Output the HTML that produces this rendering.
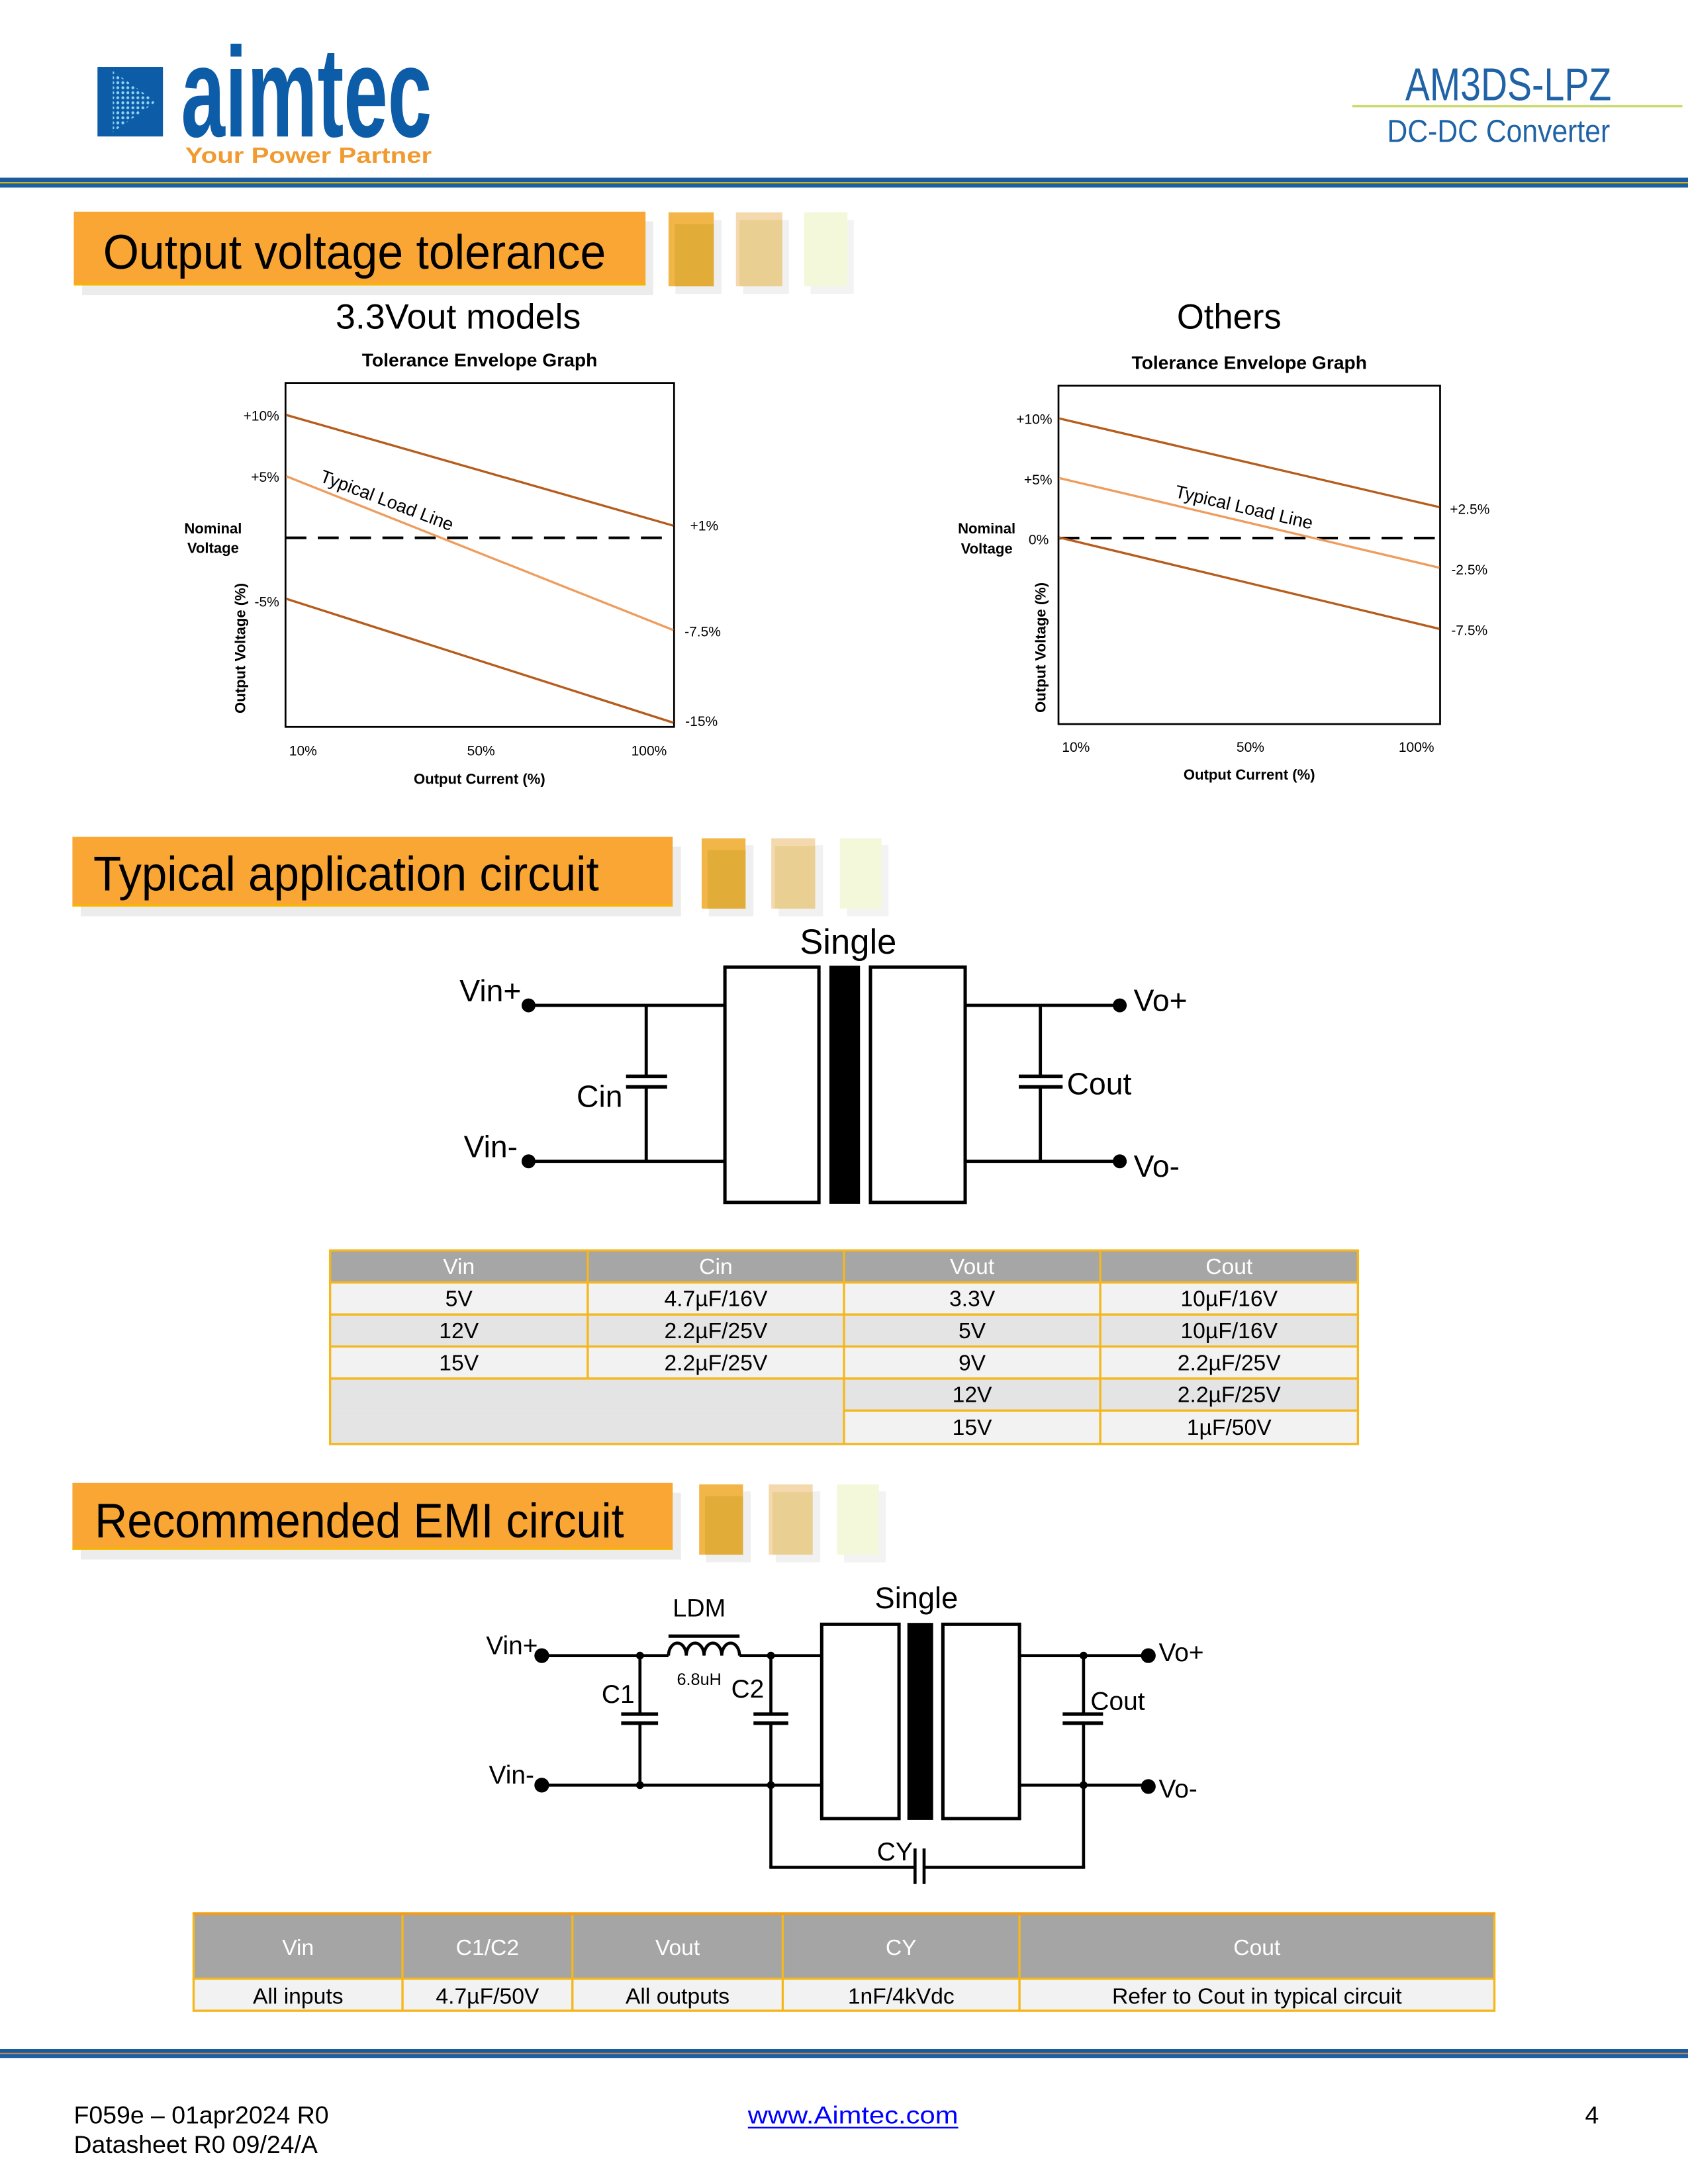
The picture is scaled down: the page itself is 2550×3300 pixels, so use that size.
<!DOCTYPE html>
<html><head><meta charset="utf-8">
<style>
html,body{margin:0;padding:0;background:#fff;}
svg{display:block;}
text{font-family:"Liberation Sans",Arial,sans-serif;fill:#000;}
</style></head><body>
<svg xmlns="http://www.w3.org/2000/svg" width="2550" height="3300" viewBox="0 0 1212 1568.44">
<defs>
<pattern id="dots" width="3.6" height="3.6" patternUnits="userSpaceOnUse"><circle cx="1.8" cy="1.8" r="1.05" fill="#8fd3f4"/></pattern>
</defs>
<rect width="1212" height="1568.44" fill="#fff"/>

<!-- ===== HEADER ===== -->
<rect x="70" y="48" width="47" height="50" fill="#0d5ca8"/>
<polygon points="81,51 112,73 81,95" fill="url(#dots)"/>
<text x="130" y="98" font-size="92" font-weight="bold" style="fill:#0d5ca8" textLength="180" lengthAdjust="spacingAndGlyphs">aimtec</text>
<text x="133" y="117" font-size="16" font-weight="bold" style="fill:#f19a30" textLength="177" lengthAdjust="spacingAndGlyphs">Your Power Partner</text>

<text x="1157" y="72" font-size="33" style="fill:#1f63a6" text-anchor="end" textLength="148" lengthAdjust="spacingAndGlyphs">AM3DS-LPZ</text>
<rect x="971" y="75.5" width="237" height="1.6" fill="#cbd96a"/>
<text x="1156" y="102" font-size="23" style="fill:#1f63a6" text-anchor="end" textLength="160" lengthAdjust="spacingAndGlyphs">DC-DC Converter</text>

<rect x="0" y="127.6" width="1212" height="3.1" fill="#1a5a9e"/>
<rect x="0" y="130.7" width="1212" height="1" fill="#dcb400"/>
<rect x="0" y="131.7" width="1212" height="3" fill="#1d5fa3"/>

<!-- ===== HEADING 1 ===== -->
<rect x="59" y="159" width="410" height="53" fill="#ececec"/>
<rect x="53" y="152" width="410.5" height="53" fill="#faa634"/>
<rect x="53" y="203.3" width="410.5" height="1.7" fill="#f7b500"/>
<text x="74" y="193" font-size="35" textLength="361" lengthAdjust="spacingAndGlyphs">Output voltage tolerance</text>
<rect x="485" y="158" width="33" height="53" fill="#efefef"/>
<rect x="480" y="152.5" width="32.5" height="53" fill="#f2b548"/>
<rect x="484.5" y="161" width="28" height="44.5" fill="#e1ac38"/>
<rect x="533.5" y="158" width="33" height="53" fill="#f1f1f1"/>
<rect x="528.4" y="152.5" width="33.3" height="53" fill="#f5d9ae"/>
<rect x="531" y="158" width="30.7" height="47.5" fill="#e9cf92"/>
<rect x="582" y="158" width="31" height="53" fill="#f3f3f3"/>
<rect x="577.5" y="152.5" width="31" height="53" fill="#f4f8da"/>

<!-- subtitles -->
<text x="329" y="236" font-size="25" text-anchor="middle" textLength="176" lengthAdjust="spacingAndGlyphs">3.3Vout models</text>
<text x="882.5" y="236" font-size="25" text-anchor="middle" textLength="75" lengthAdjust="spacingAndGlyphs">Others</text>

<!-- ===== CHART 1 ===== -->
<text x="344.4" y="263" font-size="13.2" font-weight="bold" text-anchor="middle" textLength="169" lengthAdjust="spacingAndGlyphs">Tolerance Envelope Graph</text>
<rect x="205" y="275" width="279" height="247" fill="none" stroke="#000" stroke-width="1.3"/>
<line x1="205" y1="386.2" x2="482" y2="386.2" stroke="#000" stroke-width="1.9" stroke-dasharray="15 8.2"/>
<line x1="205.5" y1="298" x2="483.5" y2="377.5" stroke="#b65c1c" stroke-width="1.6"/>
<line x1="205.5" y1="342" x2="483.5" y2="452.5" stroke="#ee9d5e" stroke-width="1.6"/>
<line x1="205.5" y1="430" x2="483.5" y2="519" stroke="#b65c1c" stroke-width="1.6"/>
<text transform="translate(229,345.5) rotate(20.8)" font-size="13">Typical Load Line</text>
<g font-size="10">
<text x="200.5" y="302" text-anchor="end">+10%</text>
<text x="200.5" y="346" text-anchor="end">+5%</text>
<text x="200.5" y="435.5" text-anchor="end">-5%</text>
<text x="495.5" y="381">+1%</text>
<text x="491.5" y="457">-7.5%</text>
<text x="492" y="521.5">-15%</text>
<text x="217.6" y="542.5" text-anchor="middle">10%</text>
<text x="345.4" y="542.5" text-anchor="middle">50%</text>
<text x="466" y="542.5" text-anchor="middle">100%</text>
</g>
<g font-size="10.5" font-weight="bold">
<text x="153" y="383" text-anchor="middle">Nominal</text>
<text x="153" y="397" text-anchor="middle">Voltage</text>
<text x="344.3" y="563" text-anchor="middle">Output Current (%)</text>
<text transform="translate(176,465.5) rotate(-90)" text-anchor="middle">Output Voltage (%)</text>
</g>

<!-- ===== CHART 2 ===== -->
<text x="897" y="265" font-size="13.2" font-weight="bold" text-anchor="middle" textLength="169" lengthAdjust="spacingAndGlyphs">Tolerance Envelope Graph</text>
<rect x="760" y="277" width="274" height="243" fill="none" stroke="#000" stroke-width="1.3"/>
<line x1="760" y1="386.4" x2="1031" y2="386.4" stroke="#000" stroke-width="1.9" stroke-dasharray="15 8.2"/>
<line x1="760.5" y1="300.5" x2="1033.5" y2="364.2" stroke="#b65c1c" stroke-width="1.6"/>
<line x1="760.5" y1="343.3" x2="1033.5" y2="407.7" stroke="#ee9d5e" stroke-width="1.6"/>
<line x1="760.5" y1="386" x2="1033.5" y2="451.6" stroke="#b65c1c" stroke-width="1.6"/>
<text transform="translate(843,357) rotate(13.2)" font-size="13">Typical Load Line</text>
<g font-size="10">
<text x="755.5" y="304.5" text-anchor="end">+10%</text>
<text x="755.5" y="348" text-anchor="end">+5%</text>
<text x="753" y="391" text-anchor="end">0%</text>
<text x="1041" y="369">+2.5%</text>
<text x="1042" y="412.5">-2.5%</text>
<text x="1042" y="456">-7.5%</text>
<text x="772.5" y="540" text-anchor="middle">10%</text>
<text x="897.8" y="540" text-anchor="middle">50%</text>
<text x="1017" y="540" text-anchor="middle">100%</text>
</g>
<g font-size="10.5" font-weight="bold">
<text x="708.5" y="383" text-anchor="middle">Nominal</text>
<text x="708.5" y="397.5" text-anchor="middle">Voltage</text>
<text x="897" y="560" text-anchor="middle">Output Current (%)</text>
<text transform="translate(750.7,465) rotate(-90)" text-anchor="middle">Output Voltage (%)</text>
</g>

<!-- ===== HEADING 2 ===== -->
<rect x="58" y="608" width="431" height="50" fill="#ececec"/>
<rect x="52" y="601" width="431" height="50" fill="#faa634"/>
<rect x="52" y="649.3" width="431" height="1.7" fill="#f7b500"/>
<text x="67" y="639.5" font-size="35" textLength="363" lengthAdjust="spacingAndGlyphs">Typical application circuit</text>
<rect x="509" y="607" width="32" height="51" fill="#efefef"/>
<rect x="503.8" y="602" width="31.5" height="50.5" fill="#f2b548"/>
<rect x="508" y="610.5" width="27.3" height="42" fill="#e1ac38"/>
<rect x="559" y="607" width="32" height="51" fill="#f1f1f1"/>
<rect x="553.8" y="602" width="31.5" height="50.5" fill="#f5d9ae"/>
<rect x="556.5" y="607.5" width="28.8" height="45" fill="#e9cf92"/>
<rect x="608" y="607" width="30" height="51" fill="#f3f3f3"/>
<rect x="603" y="602" width="30" height="50.5" fill="#f4f8da"/>

<!-- ===== CIRCUIT 1 ===== -->
<text x="609" y="685" font-size="25" text-anchor="middle">Single</text>
<g stroke="#000" stroke-width="2.3" fill="none">
<line x1="379" y1="722" x2="520" y2="722"/>
<line x1="379" y1="834" x2="520" y2="834"/>
<line x1="464" y1="722" x2="464" y2="773"/>
<line x1="464" y1="780.5" x2="464" y2="834"/>
<line x1="449.5" y1="773" x2="479" y2="773" stroke-width="2.6"/>
<line x1="449.5" y1="780.5" x2="479" y2="780.5" stroke-width="2.6"/>
<rect x="520.5" y="694.5" width="67.5" height="169" fill="#fff" stroke-width="2.4"/>
<rect x="625" y="694.5" width="68" height="169" fill="#fff" stroke-width="2.4"/>
<line x1="693" y1="722" x2="804" y2="722"/>
<line x1="693" y1="834" x2="804" y2="834"/>
<line x1="747" y1="722" x2="747" y2="773"/>
<line x1="747" y1="780.5" x2="747" y2="834"/>
<line x1="731.5" y1="773" x2="763" y2="773" stroke-width="2.6"/>
<line x1="731.5" y1="780.5" x2="763" y2="780.5" stroke-width="2.6"/>
</g>
<rect x="595.5" y="693.5" width="22" height="171" fill="#000"/>
<circle cx="379.5" cy="722" r="5" fill="#000"/>
<circle cx="379.5" cy="834" r="5" fill="#000"/>
<circle cx="804" cy="722" r="5" fill="#000"/>
<circle cx="804" cy="834" r="5" fill="#000"/>
<g font-size="22">
<text x="330" y="719">Vin+</text>
<text x="333" y="831">Vin-</text>
<text x="414" y="795">Cin</text>
<text x="814" y="726">Vo+</text>
<text x="814" y="845">Vo-</text>
<text x="766" y="786">Cout</text>
</g>

<!-- ===== TABLE 1 ===== -->
<rect x="237" y="898" width="738" height="23" fill="#a6a6a6"/>
<rect x="237" y="921" width="738" height="23" fill="#f2f2f2"/>
<rect x="237" y="944" width="738" height="23" fill="#e4e4e4"/>
<rect x="237" y="967" width="738" height="23" fill="#f2f2f2"/>
<rect x="237" y="990" width="738" height="23" fill="#e4e4e4"/>
<rect x="606" y="1013" width="369" height="24" fill="#f2f2f2"/>
<rect x="237" y="1013" width="369" height="24" fill="#e4e4e4"/>
<g stroke="#f4b71e" stroke-width="1.6" fill="none">
<rect x="237" y="898" width="738" height="139"/>
<line x1="237" y1="921" x2="975" y2="921"/>
<line x1="237" y1="944" x2="975" y2="944"/>
<line x1="237" y1="967" x2="975" y2="967"/>
<line x1="237" y1="990" x2="975" y2="990"/>
<line x1="606" y1="1013" x2="975" y2="1013"/>
<line x1="422" y1="898" x2="422" y2="990"/>
<line x1="606" y1="898" x2="606" y2="1037"/>
<line x1="790" y1="898" x2="790" y2="1037"/>
</g>
<g font-size="16" text-anchor="middle">
<text x="329.5" y="915" style="fill:#fff">Vin</text>
<text x="514" y="915" style="fill:#fff">Cin</text>
<text x="698" y="915" style="fill:#fff">Vout</text>
<text x="882.5" y="915" style="fill:#fff">Cout</text>
<text x="329.5" y="938">5V</text>
<text x="514" y="938">4.7µF/16V</text>
<text x="698" y="938">3.3V</text>
<text x="882.5" y="938">10µF/16V</text>
<text x="329.5" y="961">12V</text>
<text x="514" y="961">2.2µF/25V</text>
<text x="698" y="961">5V</text>
<text x="882.5" y="961">10µF/16V</text>
<text x="329.5" y="984">15V</text>
<text x="514" y="984">2.2µF/25V</text>
<text x="698" y="984">9V</text>
<text x="882.5" y="984">2.2µF/25V</text>
<text x="698" y="1007">12V</text>
<text x="882.5" y="1007">2.2µF/25V</text>
<text x="698" y="1030.5">15V</text>
<text x="882.5" y="1030.5">1µF/50V</text>
</g>

<!-- ===== HEADING 3 ===== -->
<rect x="58" y="1072" width="431" height="48" fill="#ececec"/>
<rect x="52" y="1065" width="431" height="48" fill="#faa634"/>
<rect x="52" y="1111.3" width="431" height="1.7" fill="#f7b500"/>
<text x="68" y="1104" font-size="35" textLength="380" lengthAdjust="spacingAndGlyphs">Recommended EMI circuit</text>
<rect x="507" y="1071" width="32" height="51" fill="#efefef"/>
<rect x="502" y="1066" width="31.5" height="50.5" fill="#f2b548"/>
<rect x="506.2" y="1074.5" width="27.3" height="42" fill="#e1ac38"/>
<rect x="557" y="1071" width="32" height="51" fill="#f1f1f1"/>
<rect x="552" y="1066" width="31.5" height="50.5" fill="#f5d9ae"/>
<rect x="554.7" y="1071.5" width="28.8" height="45" fill="#e9cf92"/>
<rect x="606" y="1071" width="30" height="51" fill="#f3f3f3"/>
<rect x="601" y="1066" width="30" height="50.5" fill="#f4f8da"/>

<!-- ===== EMI CIRCUIT ===== -->
<g stroke="#000" stroke-width="2.2" fill="none">
<line x1="389" y1="1189" x2="480" y2="1189"/>
<line x1="531" y1="1189" x2="590" y2="1189"/>
<path d="M480,1189 a6.375,9 0 0 1 12.75,0 a6.375,9 0 0 1 12.75,0 a6.375,9 0 0 1 12.75,0 a6.375,9 0 0 1 12.75,0"/>
<line x1="480" y1="1175" x2="531" y2="1175" stroke-width="2.4"/>
<line x1="389" y1="1282" x2="590" y2="1282"/>
<line x1="459.5" y1="1189" x2="459.5" y2="1231"/>
<line x1="459.5" y1="1237.5" x2="459.5" y2="1282"/>
<line x1="446" y1="1231" x2="472.5" y2="1231" stroke-width="2.5"/>
<line x1="446" y1="1237.5" x2="472.5" y2="1237.5" stroke-width="2.5"/>
<line x1="553.5" y1="1189" x2="553.5" y2="1231"/>
<line x1="553.5" y1="1237.5" x2="553.5" y2="1341"/>
<line x1="541" y1="1231" x2="566" y2="1231" stroke-width="2.5"/>
<line x1="541" y1="1237.5" x2="566" y2="1237.5" stroke-width="2.5"/>
<path d="M552.4,1341 H657 M663.5,1341 H779.1"/>
<line x1="657" y1="1327.5" x2="657" y2="1353"/>
<line x1="663.5" y1="1327.5" x2="663.5" y2="1353"/>
<line x1="778" y1="1342" x2="778" y2="1237.5"/>
<line x1="778" y1="1189" x2="778" y2="1231"/>
<line x1="763" y1="1231" x2="792" y2="1231" stroke-width="2.5"/>
<line x1="763" y1="1237.5" x2="792" y2="1237.5" stroke-width="2.5"/>
<rect x="590" y="1166.5" width="55.5" height="139.5" fill="#fff" stroke-width="2.4"/>
<rect x="677" y="1166.5" width="55" height="139.5" fill="#fff" stroke-width="2.4"/>
<line x1="732" y1="1189" x2="824" y2="1189"/>
<line x1="732" y1="1282" x2="824" y2="1282"/>
</g>
<rect x="651.5" y="1165.5" width="18.5" height="141.5" fill="#000"/>
<circle cx="389" cy="1189" r="5.3" fill="#000"/>
<circle cx="389" cy="1282" r="5.3" fill="#000"/>
<circle cx="824.5" cy="1189" r="5.3" fill="#000"/>
<circle cx="824.5" cy="1283" r="5.3" fill="#000"/>
<circle cx="459.5" cy="1189" r="2.8" fill="#000"/>
<circle cx="553.5" cy="1189" r="2.8" fill="#000"/>
<circle cx="459.5" cy="1282" r="2.8" fill="#000"/>
<circle cx="553.5" cy="1282" r="2.8" fill="#000"/>
<circle cx="778" cy="1189" r="2.8" fill="#000"/>
<circle cx="778" cy="1282" r="2.8" fill="#000"/>
<text x="658" y="1155" font-size="21.5" text-anchor="middle">Single</text>
<text x="502" y="1161" font-size="18" text-anchor="middle">LDM</text>
<text x="502" y="1210" font-size="12" text-anchor="middle">6.8uH</text>
<g font-size="18.5">
<text x="349" y="1188">Vin+</text>
<text x="351" y="1281">Vin-</text>
<text x="432" y="1223">C1</text>
<text x="525" y="1219">C2</text>
<text x="783" y="1228">Cout</text>
<text x="832" y="1193">Vo+</text>
<text x="832" y="1291">Vo-</text>
<text x="642.5" y="1336" text-anchor="middle">CY</text>
</g>

<!-- ===== TABLE 2 ===== -->
<rect x="139" y="1374" width="934" height="47" fill="#a5a5a5"/>
<rect x="139" y="1421" width="934" height="23" fill="#f2f2f2"/>
<g stroke="#f4b71e" stroke-width="1.6" fill="none">
<rect x="139" y="1374" width="934" height="70"/>
<line x1="139" y1="1421" x2="1073" y2="1421"/>
<line x1="289" y1="1374" x2="289" y2="1444"/>
<line x1="411" y1="1374" x2="411" y2="1444"/>
<line x1="562" y1="1374" x2="562" y2="1444"/>
<line x1="732" y1="1374" x2="732" y2="1444"/>
</g>
<line x1="139" y1="1374.5" x2="1073" y2="1374.5" stroke="#f09a28" stroke-width="2"/>
<g font-size="16" text-anchor="middle">
<text x="214" y="1404" style="fill:#fff">Vin</text>
<text x="350" y="1404" style="fill:#fff">C1/C2</text>
<text x="486.5" y="1404" style="fill:#fff">Vout</text>
<text x="647" y="1404" style="fill:#fff">CY</text>
<text x="902.5" y="1404" style="fill:#fff">Cout</text>
<text x="214" y="1439">All inputs</text>
<text x="350" y="1439">4.7µF/50V</text>
<text x="486.5" y="1439">All outputs</text>
<text x="647" y="1439">1nF/4kVdc</text>
<text x="902.5" y="1439">Refer to Cout in typical circuit</text>
</g>

<!-- ===== FOOTER ===== -->
<rect x="0" y="1471.5" width="1212" height="2.8" fill="#1a5a9e"/>
<rect x="0" y="1474.3" width="1212" height="1" fill="#c98545"/>
<rect x="0" y="1475.3" width="1212" height="2.8" fill="#1d5fa3"/>
<text x="53" y="1525" font-size="17.8">F059e – 01apr2024 R0</text>
<text x="53" y="1546" font-size="17.8">Datasheet R0 09/24/A</text>
<text x="537" y="1525" font-size="17.8" style="fill:#0000ff" textLength="151" lengthAdjust="spacingAndGlyphs">www.Aimtec.com</text>
<line x1="537" y1="1528" x2="688" y2="1528" stroke="#0000ff" stroke-width="1.2"/>
<text x="1148" y="1525" font-size="17.8" text-anchor="end">4</text>
</svg>
</body></html>
